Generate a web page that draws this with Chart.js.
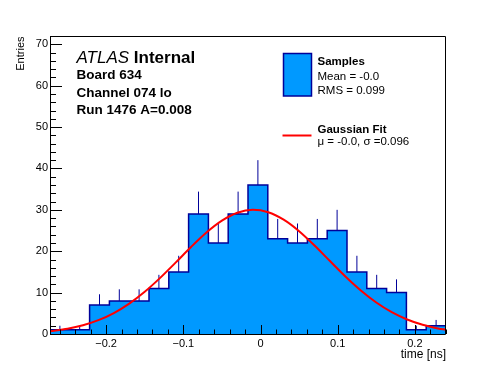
<!doctype html>
<html lang="en">
  <head>
    <meta charset="utf-8">
    <title>Board 634 Channel 074 lo</title>
    <style>
      * { margin: 0; padding: 0; }
      body { background: #fff; }
      canvas { display: block; }
    </style>
  </head>
  <body>
    <canvas id="myChart" width="496" height="372"></canvas>
    <script src="https://cdn.jsdelivr.net/npm/chart.js/dist/chart.umd.min.js"></script>
    <script>
    // histogram: 20 bins
    const xLow = -0.2727;
    const binWidth = 0.02565;
    const counts = [1, 1, 7, 8, 8, 11, 15, 29, 22, 29, 36, 23, 22, 23, 25, 15, 11, 10, 1, 2];
    const errors = [1, 1, 2.6, 2.8, 2.8, 3.3, 3.9, 5.4, 4.7, 5.4, 6, 4.8, 4.7, 4.8, 5, 3.9, 3.3, 3.2, 1, 1.4];

    // gaussian fit curve
    const fitX = [-0.2727, -0.25, -0.23, -0.21, -0.19, -0.17, -0.15, -0.13, -0.11, -0.09, -0.07, -0.05, -0.03, -0.01,
                  0.01, 0.03, 0.05, 0.07, 0.09, 0.11, 0.13, 0.15, 0.17, 0.19, 0.21, 0.23, 0.2402];
    const fitY = [0.69, 1.28, 2.12, 3.35, 5.07, 7.35, 10.2, 13.56, 17.25, 21.02, 24.52, 27.38, 29.29, 30.0,
                  29.42, 27.62, 24.84, 21.38, 17.63, 13.91, 10.52, 7.61, 5.27, 3.5, 2.22, 1.35, 1.03];

    const xTicks = [-0.2, -0.1, 0, 0.1, 0.2];
    const yTicks = [0, 10, 20, 30, 40, 50, 60, 70];

    const xHigh = xLow + counts.length * binWidth;
    const fillBlue = '#0099ff';
    const navy = '#000099';
    const FONT = '"Liberation Sans", Arial, Helvetica, sans-serif';

    const histPoints = [{ x: xLow, y: 0 }];
    counts.forEach((c, i) => histPoints.push({ x: xLow + i * binWidth, y: c }));
    histPoints.push({ x: xHigh, y: counts[counts.length - 1] });
    histPoints.push({ x: xHigh, y: 0 });

    const errPoints = [];
    counts.forEach((c, i) => {
      const cx = xLow + (i + 0.5) * binWidth;
      errPoints.push({ x: cx, y: c }, { x: cx, y: c + errors[i] }, { x: cx, y: null });
    });

    const fitPoints = fitX.map((x, i) => ({ x: x, y: fitY[i] }));

    // frame, inward ticks, titles, ATLAS text and legend
    const rootStyle = {
      id: 'rootStyle',
      afterDatasetsDraw(chart) {
        const { ctx, chartArea: a, scales: { x, y } } = chart;
        ctx.save();
        ctx.strokeStyle = '#000';
        ctx.lineWidth = 1;
        ctx.beginPath();
        ctx.rect(a.left + 0.5, a.top + 0.5, a.right - a.left - 1, a.bottom - a.top);
        ctx.stroke();

        ctx.beginPath();
        // x ticks
        for (let k = -14; k <= 12; k++) {
          const v = k * 0.02;
          if (v < xLow || v > xHigh) continue;
          const px = Math.round(x.getPixelForValue(v)) + 0.5;
          const len = (k % 5 === 0) ? 9 : 4.5;
          ctx.moveTo(px, a.bottom);
          ctx.lineTo(px, a.bottom - len);
        }
        // y ticks
        for (let v = 0; v <= 72; v += 2) {
          const py = Math.round(y.getPixelForValue(v)) + 0.5;
          const len = (v % 10 === 0) ? 12 : 6;
          ctx.moveTo(a.left, py);
          ctx.lineTo(a.left + len, py);
        }
        ctx.stroke();
        ctx.restore();
      },
      afterDraw(chart) {
        const { ctx, chartArea: a } = chart;
        ctx.save();
        ctx.fillStyle = '#000';
        ctx.textBaseline = 'alphabetic';

        // axis titles
        ctx.font = '12px ' + FONT;
        ctx.textAlign = 'right';
        ctx.fillText('time [ns]', a.right, 358);
        ctx.save();
        ctx.translate(24, a.top + 0.5);
        ctx.rotate(-Math.PI / 2);
        ctx.font = '11px ' + FONT;
        ctx.fillText('Entries', 0, 0);
        ctx.restore();

        // ATLAS label block
        ctx.textAlign = 'left';
        ctx.font = 'italic 17px ' + FONT;
        ctx.fillText('ATLAS', 76.5, 63);
        const w = ctx.measureText('ATLAS ').width;
        ctx.font = 'bold 17px ' + FONT;
        ctx.fillText('Internal', 76.5 + w, 63);
        ctx.font = 'bold 13.5px ' + FONT;
        ctx.fillText('Board 634', 76.5, 79);
        ctx.fillText('Channel 074 lo', 76.5, 96.5);
        ctx.fillText('Run 1476 A=0.008', 76.5, 114);

        // legend
        ctx.fillStyle = fillBlue;
        ctx.fillRect(283.5, 53.5, 28, 42.5);
        ctx.strokeStyle = navy;
        ctx.lineWidth = 1.5;
        ctx.strokeRect(283.5, 53.5, 28, 42.5);
        ctx.strokeStyle = '#ff0000';
        ctx.lineWidth = 2;
        ctx.beginPath();
        ctx.moveTo(282.5, 135.5);
        ctx.lineTo(311.5, 135.5);
        ctx.stroke();

        ctx.fillStyle = '#000';
        ctx.font = 'bold 11.5px ' + FONT;
        ctx.fillText('Samples', 317.5, 65);
        ctx.fillText('Gaussian Fit', 317.5, 132.5);
        ctx.font = '11.5px ' + FONT;
        ctx.fillText('Mean = -0.0', 317.5, 80);
        ctx.fillText('RMS = 0.099', 317.5, 94);
        ctx.fillText('\u03bc = -0.0, \u03c3 =0.096', 317.5, 144.5);
        ctx.restore();
      }
    };

    const config = {
      type: 'line',
      data: {
        datasets: [
          {
            label: 'Samples',
            data: histPoints,
            stepped: true,
            fill: 'origin',
            backgroundColor: fillBlue,
            borderColor: navy,
            borderWidth: 1.5,
            pointRadius: 0,
            order: 2
          },
          {
            label: 'errors',
            data: errPoints,
            spanGaps: false,
            fill: false,
            borderColor: navy,
            borderWidth: 1,
            pointRadius: 0,
            order: 1
          },
          {
            label: 'Gaussian Fit',
            data: fitPoints,
            fill: false,
            borderColor: '#ff0000',
            borderWidth: 2,
            pointRadius: 0,
            cubicInterpolationMode: 'monotone',
            order: 0
          }
        ]
      },
      options: {
        responsive: false,
        animation: false,
        devicePixelRatio: 1,
        layout: { padding: { top: 36, right: 50, left: 0, bottom: 0 } },
        scales: {
          x: {
            type: 'linear',
            min: xLow,
            max: xHigh,
            afterFit: (s) => { s.height = 38; },
            afterBuildTicks: (s) => { s.ticks = xTicks.map(v => ({ value: v })); },
            grid: { display: false, drawTicks: false },
            border: { display: false },
            ticks: {
              autoSkip: false,
              maxRotation: 0,
              padding: 3,
              color: '#000',
              font: { family: FONT, size: 11 },
              callback: (v) => v === 0 ? '0' : (v < 0 ? '\u2212' : '') + Math.abs(v).toFixed(1)
            }
          },
          y: {
            type: 'linear',
            min: 0,
            max: 72,
            afterFit: (s) => { s.width = 50; },
            afterBuildTicks: (s) => { s.ticks = yTicks.map(v => ({ value: v })); },
            grid: { display: false, drawTicks: false },
            border: { display: false },
            ticks: {
              padding: 2,
              color: '#000',
              font: { family: FONT, size: 11 }
            }
          }
        },
        plugins: {
          legend: { display: false },
          tooltip: { enabled: false }
        }
      },
      plugins: [rootStyle]
    };

    const myChart = new Chart(document.getElementById('myChart'), config);
    </script>
  </body>
</html>
